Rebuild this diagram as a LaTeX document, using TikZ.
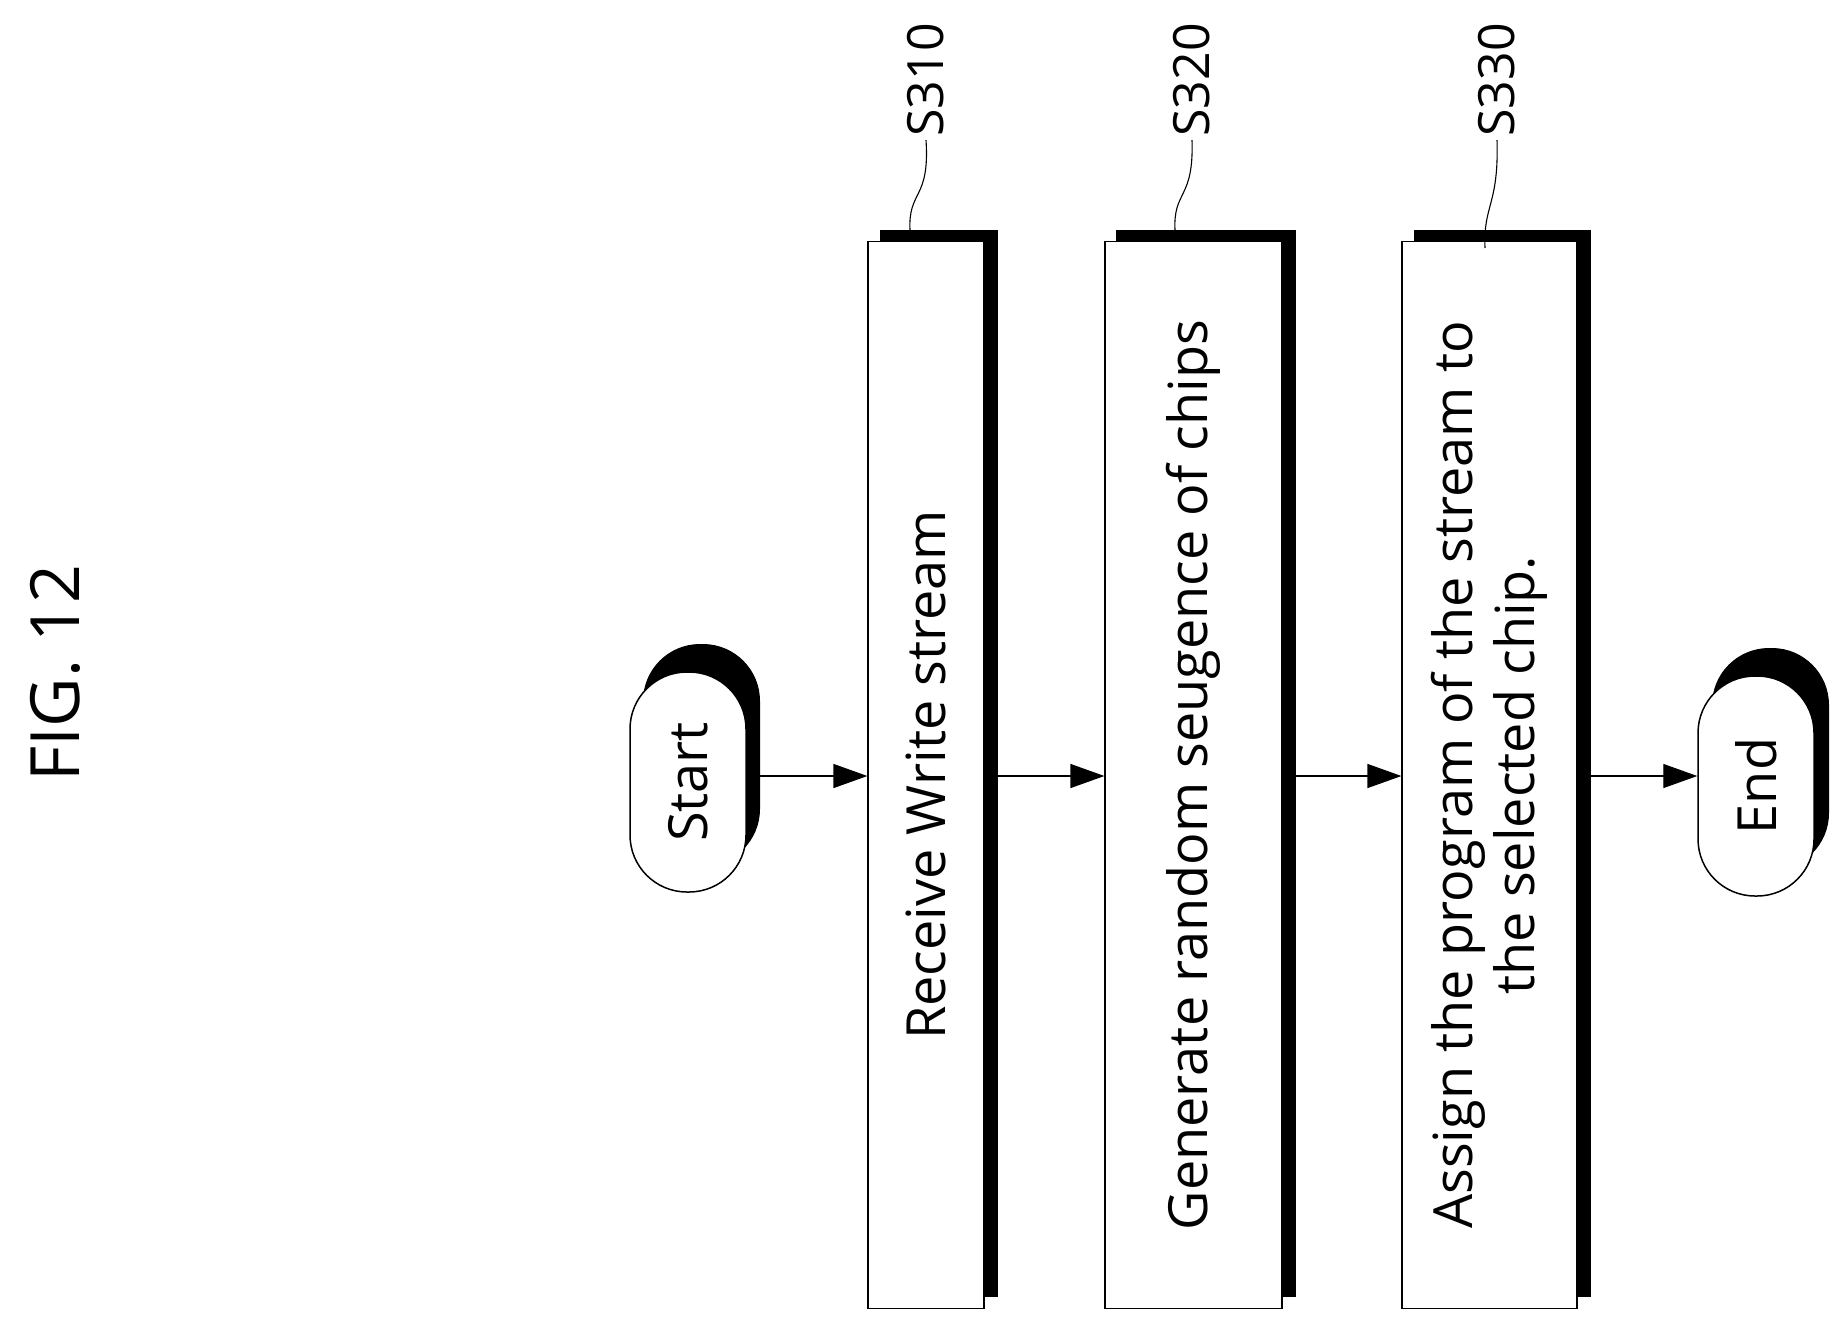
\documentclass[tikz,border=0pt]{standalone}
\usepackage{fontspec}
\setmainfont{Open Sans}
\usetikzlibrary{arrows.meta}
\begin{document}
\begin{tikzpicture}[x=1pt,y=-1pt,
  box/.style={draw,line width=1.2pt,fill=white,minimum width=116pt,minimum height=1067pt,inner sep=0pt},
  term/.style={draw,line width=1.5pt,fill=white,rounded corners=57pt,minimum width=116pt,minimum height=220pt,inner sep=0pt},
  txt/.style={rotate=90,font=\fontsize{54}{62}\selectfont,align=center},
  lab/.style={rotate=90,font=\fontsize{50}{56}\selectfont},
  arr/.style={-{Triangle[length=34pt,width=24pt]},line width=1.3pt},
  lead/.style={line width=1.1pt}]
\useasboundingbox (0,0) rectangle (1843,1326);
\node[rotate=90,font=\fontsize{68}{76}\selectfont] (fig) at (55,673) {FIG. 12};
% shadows
\fill[rounded corners=57pt] (643,644) rectangle (760,866);
\fill[rounded corners=57pt] (1712,648) rectangle (1829,870);
\fill (880,230) rectangle (998,1297);
\fill (1116,230) rectangle (1296,1297);
\fill (1414,230) rectangle (1591,1297);
% nodes
\node[term] (start) at (688,782) {};
\node[txt] at (start) {Start};
\node[box] (b1) at (926,775) {};
\node[txt] at (b1) {Receive Write stream};
\node[box,minimum width=177pt] (b2) at (1193.5,775) {};
\node[txt] at (b2) {Generate random seugence of chips};
\node[box,minimum width=175pt] (b3) at (1489.5,775) {};
\node[txt] at (b3) {Assign the program of the stream to\\the selected chip.};
\node[term] (end) at (1756,786) {};
\node[txt] at (end) {End};
% arrows
\draw[arr] (760,776) -- (b1.west|-0,776);
\draw[arr] (998,776) -- (b2.west|-0,776);
\draw[arr] (1296,776) -- (b3.west|-0,776);
\draw[arr] (1591,776) -- (end.west|-0,776);
% labels
\node[lab] (l1) at (926,80) {S310};
\node[lab] (l2) at (1192,80) {S320};
\node[lab] (l3) at (1497,80) {S330};
\coordinate (c1) at (910,230); \coordinate (c2) at (1175,230); \coordinate (c3) at (1485,248);
\draw[lead] (c1) .. controls (908,190) and (930,200) .. (l1.west);
\draw[lead] (c2) .. controls (1173,190) and (1194,200) .. (l2.west);
\draw[lead] (c3) .. controls (1483,205) and (1499,205) .. (l3.west);
\end{tikzpicture}
\end{document}
